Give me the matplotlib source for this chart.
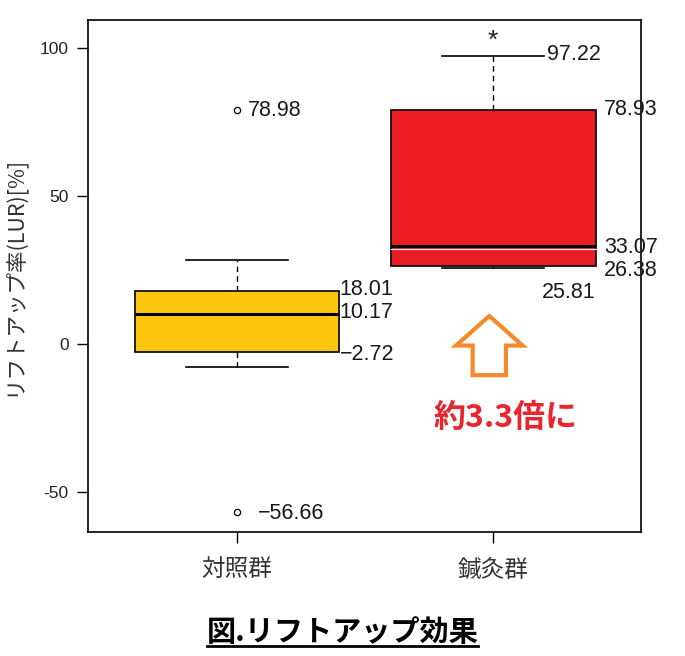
import matplotlib
matplotlib.use("Agg")
import matplotlib.pyplot as plt
from matplotlib.patches import FancyArrow
from matplotlib.lines import Line2D

plt.rcParams['font.family'] = ['Liberation Sans', 'Noto Sans CJK JP', 'DejaVu Sans']

# data
groups = ['対照群', '鍼灸群']
box_colors = ['#FDC70F', '#EC1C24']
q1 = [-2.72, 26.38]
med = [10.17, 33.07]
q3 = [18.01, 78.93]
whislo = [-7.8, 25.81]
whishi = [28.4, 97.22]
fliers = [[78.98, -56.66], []]
yticks = [-50, 0, 50, 100]

fig = plt.figure(figsize=(6.85, 6.56), dpi=100)
ax = fig.add_axes([0.1285, 0.189, 0.8075, 0.7805])

stats = []
for i in range(2):
    stats.append(dict(q1=q1[i], med=med[i], q3=q3[i], whislo=whislo[i],
                      whishi=whishi[i], fliers=fliers[i]))

bp = ax.bxp(stats, positions=[1, 2], widths=0.8, patch_artist=True,
            showfliers=True,
            boxprops=dict(linewidth=1.2, edgecolor='black'),
            medianprops=dict(color='black', linewidth=2.2),
            whiskerprops=dict(linestyle=(0, (4, 3)), linewidth=1, color='black'),
            capprops=dict(linewidth=1.2, color='black'),
            capwidths=0.4,
            flierprops=dict(marker='o', markersize=4.5, markerfacecolor='white',
                            markeredgecolor='black', markeredgewidth=0.9))
for patch, c in zip(bp['boxes'], box_colors):
    patch.set_facecolor(c)
# thin white line under the red median, as in the original
ax.plot([1.6, 2.4], [med[1] - 1.1, med[1] - 1.1], color='white', lw=0.8, zorder=4)

ax.set_xlim(0.418, 2.578)
ax.set_ylim(-63.5, 109.5)
ax.set_yticks(yticks)
ax.set_yticklabels([str(t) for t in yticks], fontsize=12.5, color='#222222')
ax.set_xticks([1, 2])
ax.set_xticklabels(groups, fontsize=17, color='#333333',
                   family=['Noto Sans CJK JP', 'DejaVu Sans'])
ax.tick_params(axis='y', length=8, width=1, pad=6)
ax.tick_params(axis='x', length=8, width=1, pad=11)
for s in ax.spines.values():
    s.set_linewidth(1.2)
ax.set_ylabel('リフトアップ率(LUR)[%]', fontsize=15.5, color='#333333',
              family=['Noto Sans CJK JP', 'DejaVu Sans'], labelpad=10)

num_font = dict(fontsize=15.5, color='#1a1a1a', family=['Liberation Sans Narrow', 'Liberation Sans'])

def label(x, y, txt, dx=0, dy=0, ha='left'):
    ax.annotate(txt, (x, y), xytext=(dx, dy), textcoords='offset points',
                ha=ha, va='center', **num_font)

label(1, fliers[0][0], '78.98', dx=8)
label(1, fliers[0][1], '\u221256.66', dx=15, dy=-1)
label(1.4, q3[0], '18.01', dx=0, dy=1)
label(1.4, med[0], '10.17', dx=0, dy=1)
label(1.4, q1[0], '\u22122.72', dx=0, dy=-2)
label(2.2, whishi[1], '97.22', dx=2, dy=1)
label(2.4, q3[1], '78.93', dx=6, dy=1)
label(2.4, med[1], '33.07', dx=6, dy=-1)
label(2.4, q1[1], '26.38', dx=6, dy=-3)
label(2.2, whislo[1], '25.81', dx=-2, dy=-18)
ax.annotate('*', (2, whishi[1]), xytext=(0, 11), textcoords='offset points',
            ha='center', va='center', fontsize=19, color='#222222')

# orange hollow arrow
ax.add_patch(FancyArrow(1.985, -10.5, 0, 20, width=0.13, head_width=0.26,
                        head_length=10, length_includes_head=True,
                        facecolor='white', edgecolor='#F58A2A', linewidth=3, zorder=5))
ax.text(2.05, -25, '約3.3倍に', ha='center', va='center', fontsize=23,
        fontweight='bold', color='#E8262E', family=['Noto Sans CJK JP', 'DejaVu Sans'])

title = fig.text(0.5, 0.036, '図.リフトアップ効果', ha='center', va='center',
                 fontsize=21, fontweight='bold', color='black',
                 family=['Noto Sans CJK JP', 'DejaVu Sans'])
fig.canvas.draw()
bb = title.get_window_extent().transformed(fig.transFigure.inverted())
fig.add_artist(Line2D([bb.x0, bb.x1], [bb.y0 + 0.002, bb.y0 + 0.002],
                      transform=fig.transFigure, color='black', lw=2))

fig.savefig('out.png', dpi=100)
